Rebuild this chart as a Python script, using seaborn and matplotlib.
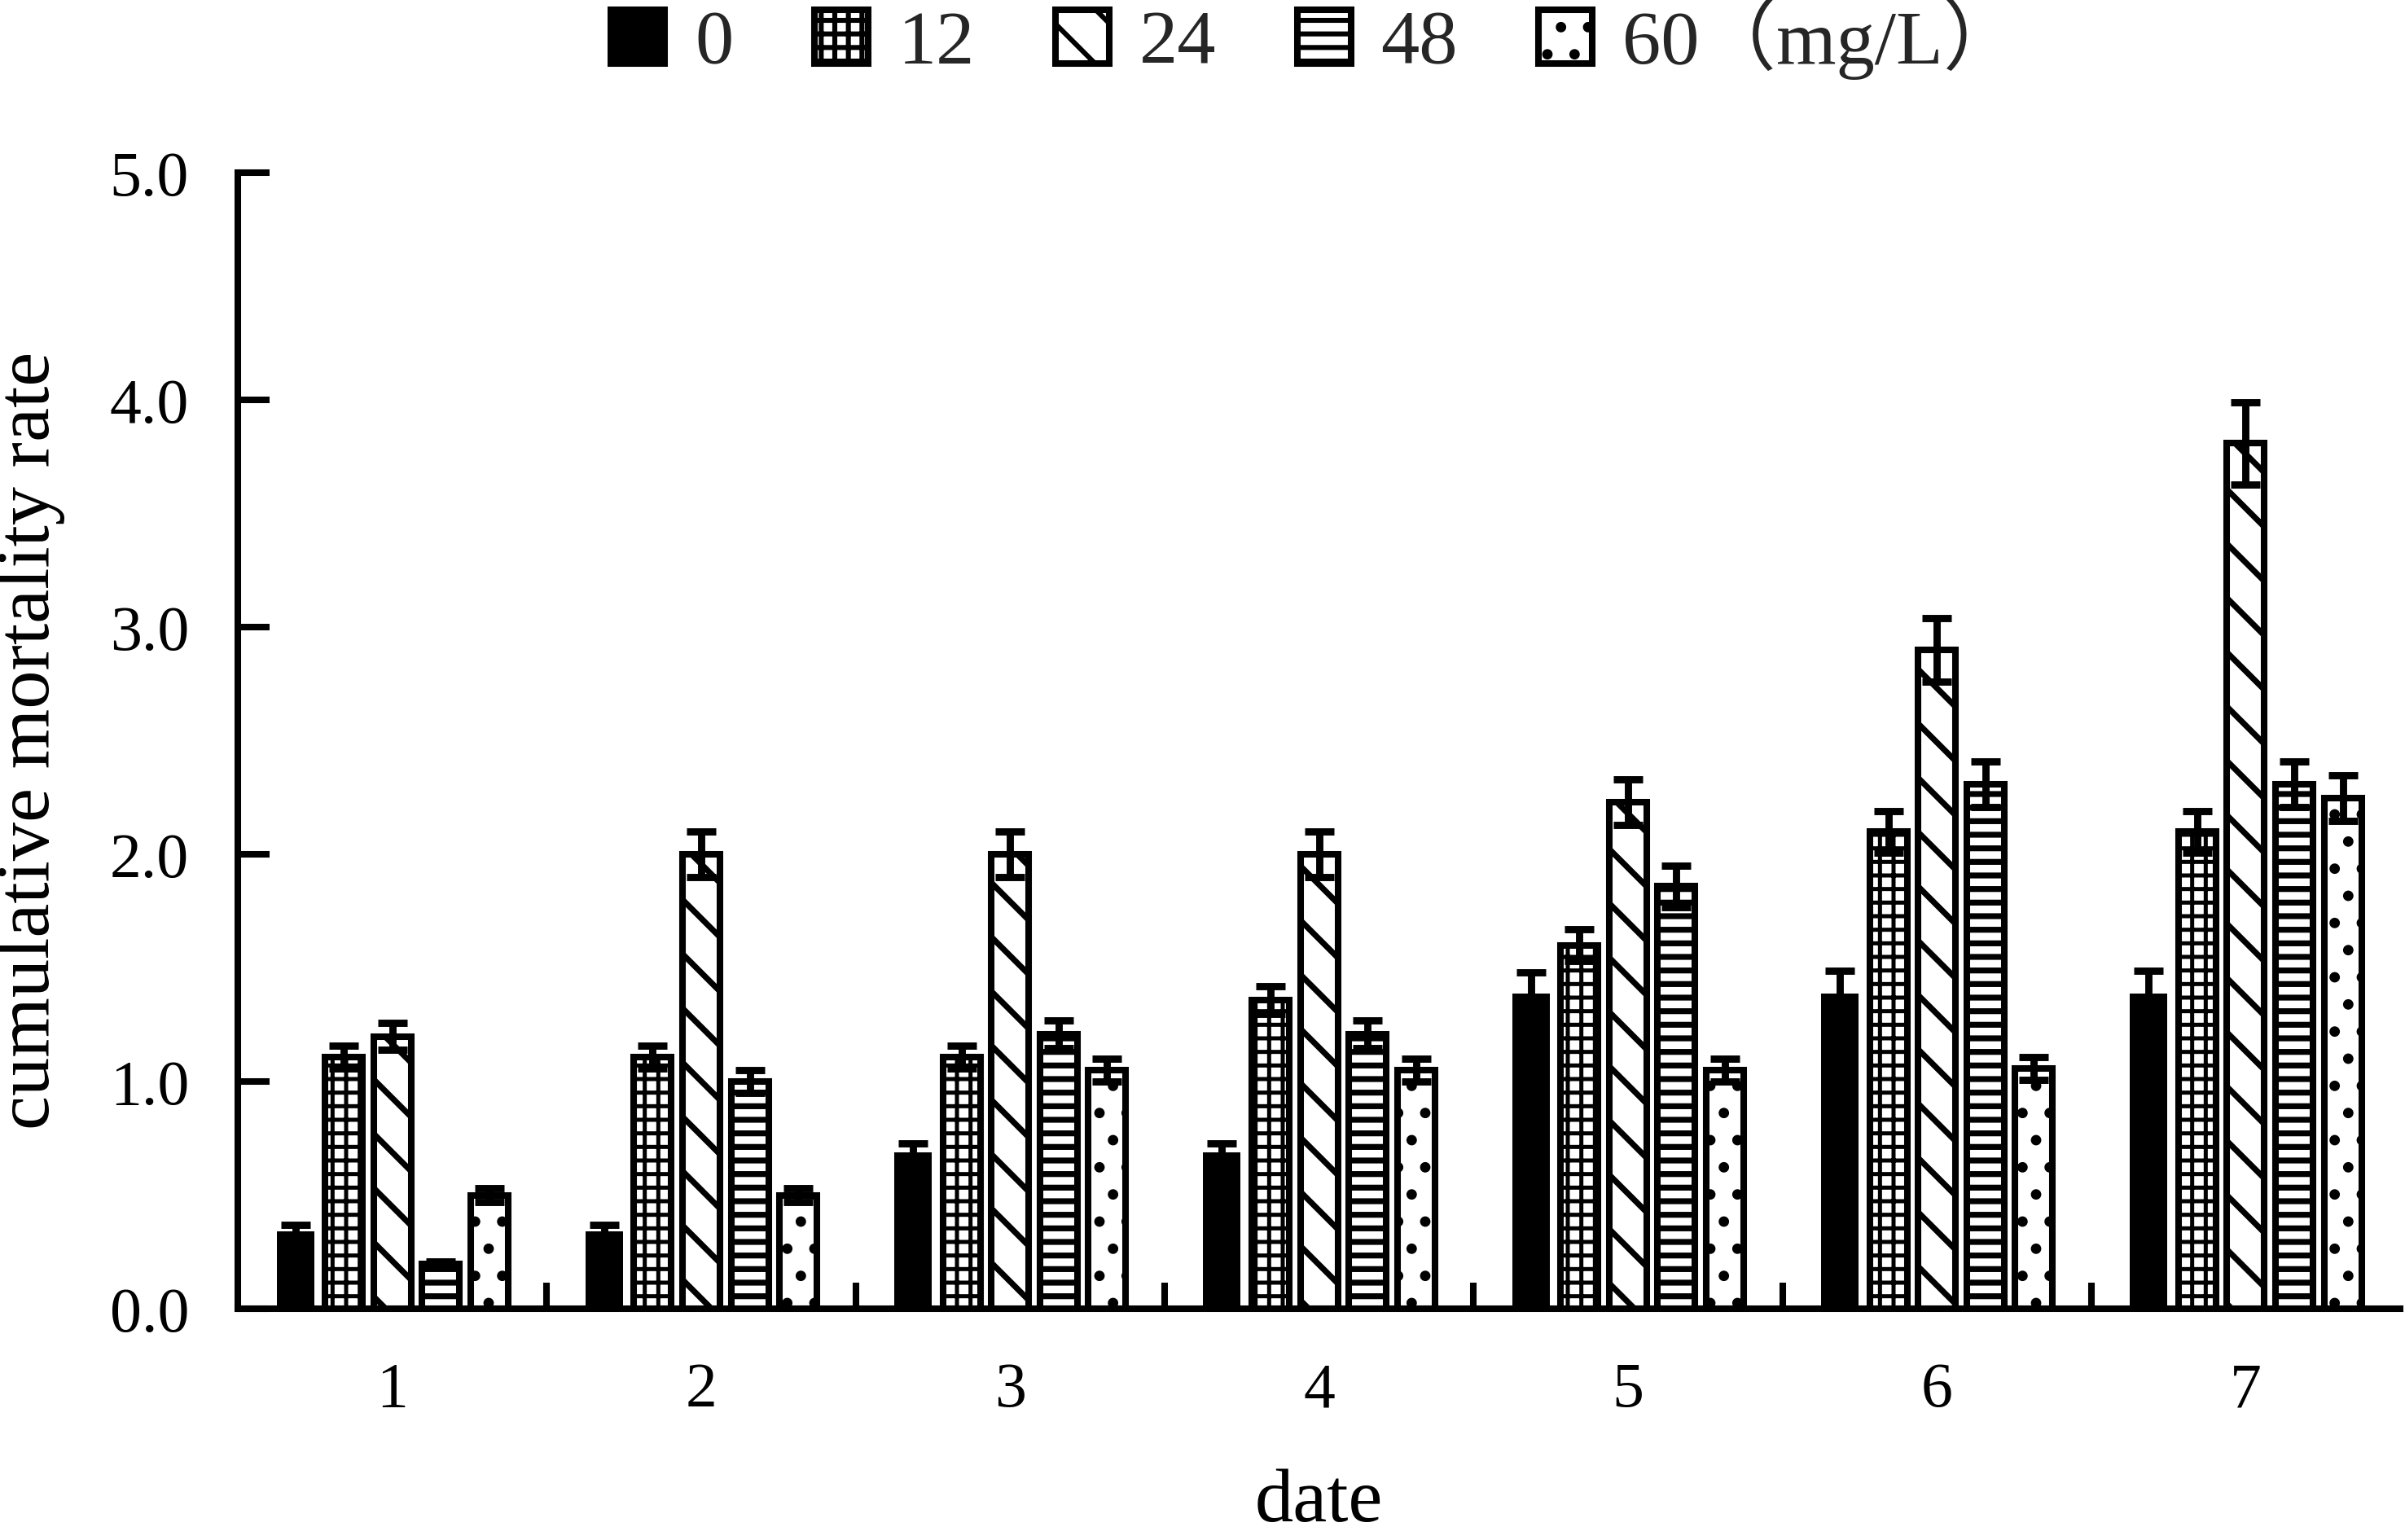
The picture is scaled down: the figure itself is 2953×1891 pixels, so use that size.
import numpy as np
import pandas as pd
import matplotlib
matplotlib.use('Agg')
import matplotlib.pyplot as plt
from matplotlib.patches import Patch
import seaborn as sns

# data
dates = ['1', '2', '3', '4', '5', '6', '7']
concs = ['0', '12', '24', '48', '60']
legend_labels = ['0', '12', '24', '48', '60\uff08mg/L\uff09']

rate_0 = [0.34, 0.34, 0.69, 0.69, 1.39, 1.39, 1.39]
rate_12 = [1.11, 1.11, 1.11, 1.36, 1.60, 2.10, 2.10]
rate_24 = [1.20, 2.00, 2.00, 2.00, 2.23, 2.90, 3.81]
rate_48 = [0.20, 1.00, 1.21, 1.21, 1.86, 2.31, 2.31]
rate_60 = [0.50, 0.50, 1.05, 1.05, 1.05, 1.06, 2.25]

err_0 = [0.03, 0.03, 0.04, 0.04, 0.09, 0.10, 0.10]
err_12 = [0.05, 0.05, 0.05, 0.06, 0.07, 0.09, 0.09]
err_24 = [0.06, 0.10, 0.10, 0.10, 0.10, 0.14, 0.18]
err_48 = [0.01, 0.05, 0.06, 0.06, 0.09, 0.10, 0.10]
err_60 = [0.03, 0.03, 0.05, 0.05, 0.05, 0.05, 0.10]

rates = [rate_0, rate_12, rate_24, rate_48, rate_60]
errs = [err_0, err_12, err_24, err_48, err_60]
hatches = ['', '++', '\\', '--', '.']
hatch_lw = [1.0, 1.8, 2.6, 2.6, 2.2]
fills = {'0': 'black', '12': 'white', '24': 'white', '48': 'white', '60': 'white'}

df = pd.DataFrame({
    'date': np.tile(dates, len(concs)),
    'conc': np.repeat(concs, len(dates)),
    'rate': np.concatenate(rates),
})

sns.set_style('ticks')
plt.rcParams['font.family'] = ['Liberation Serif', 'Noto Sans CJK SC']
plt.rcParams['hatch.linewidth'] = 2.2
plt.rcParams['hatch.color'] = 'black'


def style_hatch(patch, h, lw):
    patch.set_hatch(h)
    if hasattr(patch, 'set_hatch_linewidth'):
        patch.set_hatch_linewidth(lw)


fig = plt.figure(figsize=(14.765, 9.455), dpi=200)
ax = fig.add_axes([0.0989, 0.150, 0.8991, 0.7377])

sns.barplot(data=df, x='date', y='rate', hue='conc', order=dates, hue_order=concs,
            palette=fills, saturation=1, width=0.785, gap=0.227,
            edgecolor='black', linewidth=2.9, errorbar=None, legend=False, ax=ax)

for cont, h, hlw, e, c in zip(ax.containers, hatches, hatch_lw, errs, concs):
    xs, ys = [], []
    for bar in cont:
        style_hatch(bar, h, hlw)
        if c == '0':
            bar.set_linewidth(0)
        xs.append(bar.get_x() + bar.get_width() / 2)
        ys.append(bar.get_height())
    ax.errorbar(xs, ys, yerr=e, fmt='none', ecolor='black',
                elinewidth=3.2, capsize=6.5, capthick=3.2, zorder=3)

ax.set_xlim(-0.5, 6.5)
ax.set_ylim(0, 5)
ax.set_yticks(np.arange(0, 5.01, 1))
ax.set_yticklabels([f'{v:.1f}' for v in np.arange(0, 5.01, 1)])
ax.set_xticks(np.arange(0.5, 6, 1), minor=True)

sns.despine(ax=ax)
for s in ['left', 'bottom']:
    ax.spines[s].set_linewidth(2.9)
    ax.spines[s].set_color('black')
    ax.spines[s].set_zorder(5)

ax.tick_params(axis='y', direction='in', length=14, width=2.9, pad=21.6,
               labelsize=28, colors='black')
ax.tick_params(axis='x', which='major', length=0, pad=23.5, labelsize=28,
               colors='black')
ax.tick_params(axis='x', which='minor', direction='in', length=11.5, width=2.9,
               colors='black')

ax.set_xlabel('date', fontsize=34, color='black')
ax.set_ylabel('cumulative mortality rate', fontsize=34, color='black')
ax.xaxis.set_label_coords(0.5, -0.140)
ax.yaxis.set_label_coords(-0.080, 0.5)

handles = []
for c, h, hlw in zip(concs, hatches, hatch_lw):
    p = Patch(facecolor=fills[c], edgecolor='black', linewidth=2.9)
    style_hatch(p, h, hlw)
    handles.append(p)
fig.legend(handles, legend_labels, loc='center', bbox_to_anchor=(0.547, 0.975),
           ncol=5, frameon=False, fontsize=34, handlelength=0.7, handleheight=0.7,
           handletextpad=0.39, columnspacing=1.05, borderaxespad=0, borderpad=0)

fig.savefig('out.png', dpi=200)
